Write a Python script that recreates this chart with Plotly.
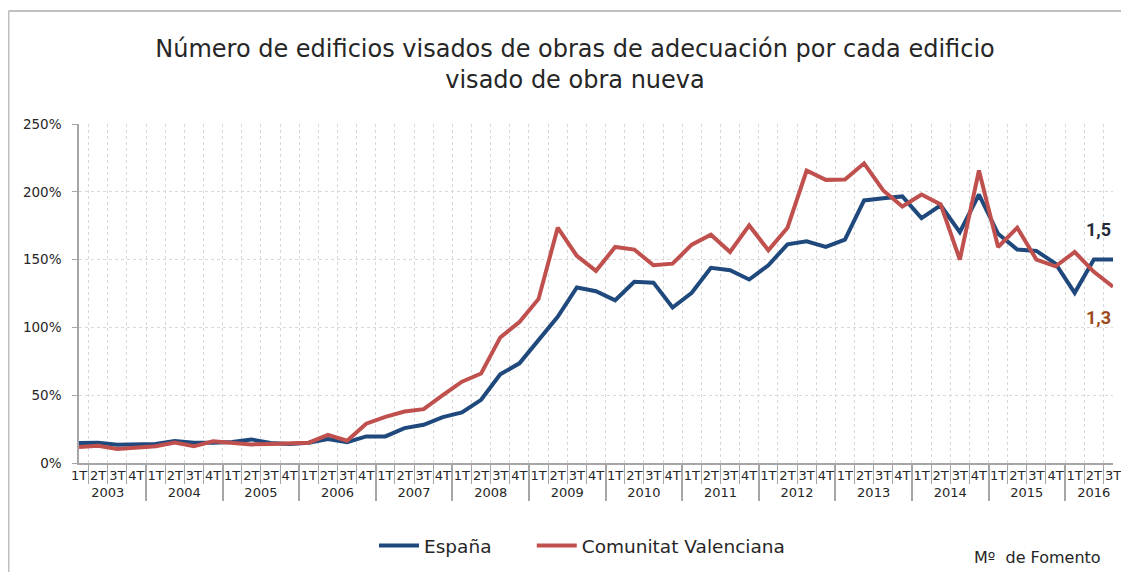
import plotly.graph_objs as go

years = ["2003", "2004", "2005", "2006", "2007", "2008", "2009",
         "2010", "2011", "2012", "2013", "2014", "2015", "2016"]
quarters = ["1T", "2T", "3T", "4T"]

# % de edificios visados de adecuación por cada edificio visado de obra nueva
espana = [14.7, 15.0, 13.5, 13.7,
          14.0, 16.2, 15.0, 15.0,
          15.5, 17.4, 14.7, 14.0,
          15.0, 17.6, 15.4, 19.6,
          19.6, 25.7, 28.2, 33.8,
          37.3, 46.6, 65.4, 73.5,
          90.7, 107.8, 129.4, 126.7,
          120.0, 133.6, 133.0, 114.7,
          125.5, 143.9, 142.2, 135.3,
          145.8, 161.3, 163.5, 159.3,
          164.7, 193.6, 195.3, 196.6,
          180.6, 190.0, 170.3, 198.0,
          169.0, 157.4, 156.4, 147.0,
          125.5, 150.0, 150.0]
valenciana = [11.8, 12.7, 10.3, 11.0,
              12.3, 15.0, 12.3, 16.0,
              14.7, 13.7, 14.0, 14.7,
              15.0, 20.8, 16.4, 29.0,
              34.0, 38.0, 39.7, 50.0,
              60.0, 66.0, 92.6, 104.0,
              121.0, 173.5, 152.7, 141.7,
              159.3, 157.4, 145.8, 147.0,
              161.0, 168.4, 155.6, 175.2,
              156.9, 173.5, 215.7, 208.8,
              209.0, 221.0, 201.0, 189.2,
              198.0, 190.7, 150.0, 215.7,
              159.3, 173.5, 150.0, 145.0,
              155.6, 141.0, 130.0]

n = len(espana)
x_year = [years[i // 4] for i in range(n)]
x_quarter = [quarters[i % 4] for i in range(n)]

font = "'DejaVu Sans', sans-serif"
pad = "\u00a0" * 6  # extra room after the first legend entry

fig = go.Figure()
fig.add_trace(go.Scatter(x=[x_year, x_quarter], y=espana, mode="lines",
                         name="España" + pad, line=dict(color="#1F497D", width=4)))
fig.add_trace(go.Scatter(x=[x_year, x_quarter], y=valenciana, mode="lines",
                         name="Comunitat Valenciana", line=dict(color="#C0504D", width=4)))

fig.update_layout(
    width=1121, height=564,
    margin=dict(l=71, r=16, t=116, b=109, autoexpand=False),
    paper_bgcolor="white", plot_bgcolor="white",
    font=dict(family=font, color="#262626"),
    title=dict(text="Número de edificios visados de obras de adecuación por cada edificio<br>visado de obra nueva",
               x=0.5058, xanchor="center", y=0.9138, yanchor="middle",
               font=dict(size=24, color="#262626")),
    legend=dict(orientation="h", x=0.2853, xanchor="left", y=-0.2448, yanchor="middle",
                font=dict(size=18.5), itemwidth=40, traceorder="normal"),
    showlegend=True,
)

fig.update_xaxes(
    type="multicategory", tickson="boundaries", ticks="outside", ticklen=19,
    tickangle=0, automargin=False,
    tickcolor="#A6A6A6", showline=True, linecolor="#A6A6A6", linewidth=1.5,
    showgrid=True, gridcolor="#D9D9D9", griddash="dot", gridwidth=1,
    showdividers=True, dividercolor="#A6A6A6", dividerwidth=1.5,
    tickfont=dict(size=13, color="#262626"),
)
fig.update_yaxes(
    range=[0, 250], dtick=50, ticksuffix="%", ticks="outside", ticklen=5,
    automargin=False, ticklabelstandoff=8,
    tickcolor="#A6A6A6", showline=True, linecolor="#A6A6A6", linewidth=1.5,
    showgrid=True, gridcolor="#D9D9D9", griddash="dot", gridwidth=1,
    zeroline=False, tickfont=dict(size=13.5, color="#262626"),
)

# end labels
fig.add_annotation(x=1.0, xref="paper", xanchor="right", y=172, yref="y",
                   text="<b>1,5</b>", showarrow=False,
                   font=dict(family="Roboto", size=18, color="#262B3A"))
fig.add_annotation(x=1.0, xref="paper", xanchor="right", y=107, yref="y",
                   text="<b>1,3</b>", showarrow=False,
                   font=dict(family="Roboto", size=18, color="#9C4A1A"))
fig.add_annotation(x=0.9903, xref="paper", xanchor="right",
                   y=-0.2773, yref="paper", yanchor="middle",
                   text="Mº  de Fomento", showarrow=False,
                   font=dict(size=16, color="#262626"))

# chart frame (left and top borders)
fig.add_shape(type="line", xref="paper", yref="paper",
              x0=-0.0682, x1=-0.0682, y0=-0.35, y1=1.333,
              line=dict(color="#BFBFBF", width=2))
fig.add_shape(type="line", xref="paper", yref="paper",
              x0=-0.0682, x1=1.1, y0=1.333, y1=1.333,
              line=dict(color="#BFBFBF", width=2))

fig.write_html("out.html")
